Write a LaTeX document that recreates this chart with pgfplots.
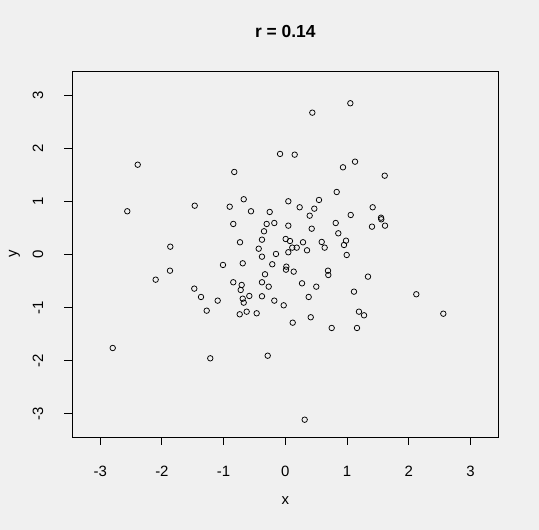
\documentclass[border=0pt]{standalone}
\usepackage{fontspec}
\setmainfont{Liberation Sans}
\usepackage{pgfplots}
\pgfplotsset{compat=1.18}
\definecolor{rbg}{HTML}{F0F0F0}

% scatter points
\pgfplotstableread{
x y
-2.392 1.687
-2.561 0.810
-1.468 0.915
-1.864 0.143
-0.827 1.550
-0.901 0.896
-0.674 1.036
-0.556 0.810
-0.253 0.797
-0.085 1.890
-0.843 0.571
-0.302 0.571
-0.178 0.589
-0.345 0.433
-0.378 0.275
-0.734 0.226
-0.431 0.105
-0.378 -0.045
-0.151 0.006
-1.869 -0.309
-2.101 -0.478
-1.010 -0.201
-0.690 -0.170
-0.211 -0.188
-0.329 -0.377
-1.475 -0.647
-1.366 -0.804
-1.096 -0.873
-0.843 -0.527
-0.707 -0.578
-0.723 -0.672
-0.690 -0.836
-0.674 -0.911
-0.583 -0.785
-0.378 -0.527
-0.269 -0.610
-0.378 -0.791
-0.178 -0.873
-1.274 -1.062
-0.739 -1.130
-0.626 -1.081
-0.464 -1.111
-2.797 -1.765
-1.216 -1.959
-0.285 -1.910
1.054 2.844
0.438 2.667
0.152 1.876
0.935 1.638
1.130 1.744
1.611 1.480
0.833 1.173
0.049 0.998
0.546 1.023
0.233 0.885
0.470 0.859
0.395 0.727
1.416 0.885
1.060 0.740
1.551 0.689
1.556 0.659
1.405 0.520
1.616 0.539
0.049 0.539
0.428 0.482
0.817 0.589
0.859 0.395
0.984 0.256
0.951 0.175
0.995 -0.013
0.006 0.288
0.076 0.250
0.287 0.226
0.590 0.232
0.638 0.125
0.113 0.125
0.185 0.125
0.352 0.075
0.049 0.038
0.017 -0.233
0.011 -0.290
0.136 -0.327
0.692 -0.309
0.697 -0.390
1.340 -0.421
0.271 -0.547
0.502 -0.610
-0.026 -0.961
0.379 -0.804
1.113 -0.704
2.123 -0.753
2.561 -1.119
1.194 -1.081
1.276 -1.149
0.412 -1.186
0.120 -1.288
0.752 -1.388
1.162 -1.388
0.314 -3.115
}\pts

\begin{document}
\begin{tikzpicture}
\fill[rbg] (0,0) rectangle (539bp,530bp);
\begin{axis}[
    at={(72.3bp,93bp)}, anchor=south west,
    scale only axis, width=426bp, height=365.7bp,
    xmin=-3.452, xmax=3.452, ymin=-3.441, ymax=3.446,
    xtick={-3,-2,-1,0,1,2,3}, ytick={-3,-2,-1,0,1,2,3},
    xticklabels={-3,-2,-1,0,1,2,3}, yticklabels={-3,-2,-1,0,1,2,3},
    xtick pos=bottom, ytick pos=left,
    tick align=outside, major tick length=8bp,
    tick style={black, line width=0.9bp},
    axis line style={black, line width=0.9bp},
    xticklabel style={font=\fontsize{15}{15}\selectfont, anchor=center, yshift=-26.7bp},
    yticklabel style={font=\fontsize{15}{15}\selectfont, anchor=center, xshift=-26.3bp, rotate=90},
    xlabel={x}, ylabel={y},
    xlabel style={font=\fontsize{15}{15}\selectfont, at={(axis description cs:0.5,-0.1742)}, anchor=center},
    ylabel style={font=\fontsize{15}{15}\selectfont, at={(axis description cs:-0.1357,0.5)}, anchor=center},
    title={\textbf{r = 0.14}},
    title style={font=\fontsize{17.5}{17.5}\selectfont, at={(axis description cs:0.5,1.0924)}, anchor=center},
]
\addplot[only marks, mark=o, mark size=2.75bp, mark options={black, line width=0.75bp}] table {\pts};
\end{axis}
\end{tikzpicture}
\end{document}
